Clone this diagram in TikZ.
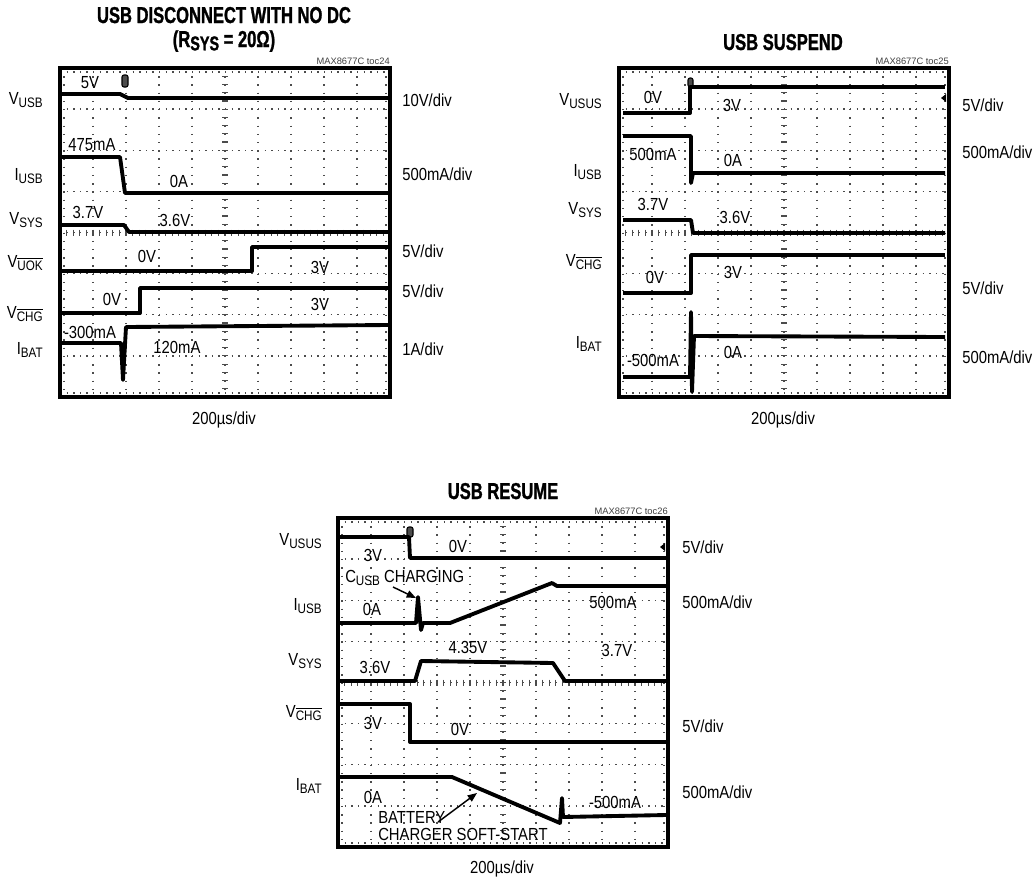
\documentclass[tikz,border=0pt]{standalone}
\usepackage{fontspec}
\usepackage{tikz}
\usetikzlibrary{arrows.meta}
\newfontfamily\labelfont[FakeStretch=0.85]{Liberation Sans}
\newfontfamily\tocfont{Liberation Sans}
\newfontfamily\titlefont[FakeStretch=0.72, BoldFeatures={FakeBold=1.2}]{Liberation Sans}
\newcommand{\sg}[2]{#1\raisebox{-2.3pt}{\fontsize{10.3}{12}\selectfont #2}}
\newcommand{\drawscreen}[2]{%
  \begin{scope}[shift={(#1,#2)}]
    \foreach \i in {1,...,9} \draw[gridv] (\i*33,0) -- (\i*33,329);
    \foreach \j in {1,...,7} \draw[gridh] (0,\j*41.125) -- (330,\j*41.125);
    \draw[gridh] (0,4) -- (330,4) (0,325) -- (330,325);
    \draw[gridv] (4,0) -- (4,329) (326,0) -- (326,329);
    \foreach \k in {1,...,49} \draw[tickmark] (\k*6.6,161.5) -- (\k*6.6,167.5);
    \foreach \k in {1,...,39} \draw[tickmark] (162,\k*8.225) -- (168,\k*8.225);
    \draw[screen] (0,0) rectangle (330,329);
  \end{scope}}
\tikzset{
  screen/.style={line width=3pt},
  gridh/.style={black!70, line width=1.1pt, dash pattern=on 1pt off 3.95pt},
  gridv/.style={black!70, line width=1.1pt, dash pattern=on 1pt off 5.17pt},
  tickmark/.style={black!70, line width=0.9pt},
  trace/.style={line width=2.9pt, line join=round},
  trigger/.style={fill=black!70, draw=black, line width=0.8pt, rounded corners=1.5pt},
  lab/.style={font=\labelfont\fontsize{13.1}{15}\selectfont, inner sep=0pt, anchor=base},
  sigl/.style={lab, anchor=base east},
  divl/.style={lab, anchor=base west},
  ttl/.style={font=\titlefont\bfseries\fontsize{17.25}{20}\selectfont, inner sep=0pt, anchor=base},
  tocl/.style={font=\tocfont\fontsize{7}{8}\selectfont, text=black!75, inner sep=0pt, anchor=base east},
  note/.style={-{Triangle[length=7pt,width=5.5pt]}, line width=1.1pt}
}

\begin{document}
\begin{tikzpicture}[x=0.75pt, y=-0.75pt]
\useasboundingbox (0,0) rectangle (1035,879);

% USB disconnect with no DC
\drawscreen{60}{68}
\filldraw[trigger] (122,75) rectangle (128,87);
\draw[trace] (62,94) -- (120,94) -- (128,98) -- (388,98);
\draw[trace] (62,157) -- (120,157) -- (125,193) -- (388,193);
\draw[trace] (62,225) -- (124,225) -- (129,232) -- (388,232);
\draw[trace] (62,271) -- (252,271) -- (252,247) -- (388,247);
\draw[trace] (62,313) -- (140,313) -- (140,288) -- (388,288);
\draw[trace] (62,343) -- (121,343) -- (123,380) -- (126,327) -- (388,325);
\begin{scope}[every node/.style={lab}]
  \node[ttl] (ttlA) at (224,23) {USB DISCONNECT WITH NO DC};
  \node[ttl, text height=12pt] (rsysA) at (224,47) {(R\raisebox{-2.5pt}{\fontsize{15}{16}\selectfont SYS} = 20Ω)};
  \node[tocl] (tocA) at (390,64) {MAX8677C toc24};
  \node[sigl] (vusbA) at (43,104) {\sg{V}{USB}};
  \node[sigl] (iusbA) at (43,180) {\sg{I}{USB}};
  \node[sigl] (vsysA) at (43,224) {\sg{V}{SYS}};
  \node[sigl] (vuokA) at (43,267) {\sg{V}{$\overline{\hbox{UOK}}$}};
  \node[sigl] (vchgA) at (43,318) {\sg{V}{$\overline{\hbox{CHG}}$}};
  \node[sigl] (ibatA) at (43,354) {\sg{I}{BAT}};
  \node[divl] (divA1) at (402,106) {10V/div};
  \node[divl] (divA2) at (402,180) {500mA/div};
  \node[divl] (divA3) at (402,257) {5V/div};
  \node[divl] (divA4) at (402,297) {5V/div};
  \node[divl] (divA5) at (402,355) {1A/div};
  \node (vA1) at (90,88) {5V};
  \node (iA1) at (92,150) {475mA};
  \node (iA2) at (179,187) {0A};
  \node (vA2) at (88,218) {3.7V};
  \node (vA3) at (175,226) {3.6V};
  \node (vA4) at (147,262) {0V};
  \node (vA5) at (320,273) {3V};
  \node (vA6) at (112,305) {0V};
  \node (vA7) at (320,310) {3V};
  \node (iA3) at (90,338) {-300mA};
  \node (iA4) at (177,353) {120mA};
  \node (timeA) at (224,424) {200µs/div};
\end{scope}

% USB suspend
\drawscreen{619}{68}
\filldraw[trigger] (688,78) rectangle (693,87);
\fill (941,98) -- (946,94) -- (946,102) -- cycle;
\draw[trace] (623,113) -- (690,113) -- (690,87) -- (945,87);
\draw[trace] (623,136) -- (691,136) -- (691,183) -- (693,173) -- (945,173);
\draw[trace] (623,220) -- (691,220) -- (693,233) -- (945,233);
\draw[trace] (623,293) -- (691,293) -- (691,255) -- (945,255);
\draw[trace] (623,377) -- (690,377) -- (691,312) -- (692,392) -- (694,336) -- (945,337);
\begin{scope}[every node/.style={lab}]
  \node[ttl] (ttlB) at (783,50) {USB SUSPEND};
  \node[tocl] (tocB) at (949,64) {MAX8677C toc25};
  \node[sigl] (vususB) at (602,105) {\sg{V}{USUS}};
  \node[sigl] (iusbB) at (602,176) {\sg{I}{USB}};
  \node[sigl] (vsysB) at (602,214) {\sg{V}{SYS}};
  \node[sigl] (vchgB) at (602,266) {\sg{V}{$\overline{\hbox{CHG}}$}};
  \node[sigl] (ibatB) at (602,348) {\sg{I}{BAT}};
  \node[divl] (divB1) at (962,111) {5V/div};
  \node[divl] (divB2) at (962,158) {500mA/div};
  \node[divl] (divB3) at (962,294) {5V/div};
  \node[divl] (divB4) at (962,363) {500mA/div};
  \node (vB1) at (653,103) {0V};
  \node (vB2) at (732,111) {3V};
  \node (iB1) at (653,160) {500mA};
  \node (iB2) at (733,166) {0A};
  \node (vB3) at (653,210) {3.7V};
  \node (vB4) at (735,223) {3.6V};
  \node (vB5) at (655,283) {0V};
  \node (vB6) at (733,278) {3V};
  \node (iB3) at (653,366) {-500mA};
  \node (iB4) at (733,358) {0A};
  \node (timeB) at (783,424) {200µs/div};
\end{scope}

% USB resume
\drawscreen{338}{518}
\filldraw[trigger] (407,527) rectangle (413,537);
\fill (660,547) -- (665,543) -- (665,551) -- cycle;
\draw[trace] (340,537) -- (409,537) -- (410,558) -- (666,558);
\draw[trace] (340,623) -- (416,623) -- (418,597) -- (421,630) -- (423,623) -- (450,623) -- (552,583) -- (557,586) -- (666,586);
\draw[trace] (340,681) -- (415,681) -- (421,661) -- (553,663) -- (565,681) -- (666,681);
\draw[trace] (340,704) -- (410,704) -- (410,742) -- (666,742);
\draw[trace] (340,777) -- (452,777) -- (560,823) -- (562,798) -- (563,817) -- (666,815);
\begin{scope}[every node/.style={lab}]
  \node[ttl] (ttlC) at (503,499) {USB RESUME};
  \node[tocl] (tocC) at (668,514) {MAX8677C toc26};
  \node[sigl] (vususC) at (322,545) {\sg{V}{USUS}};
  \node[sigl] (iusbC) at (322,610) {\sg{I}{USB}};
  \node[sigl] (vsysC) at (322,665) {\sg{V}{SYS}};
  \node[sigl] (vchgC) at (322,717) {\sg{V}{$\overline{\hbox{CHG}}$}};
  \node[sigl] (ibatC) at (322,790) {\sg{I}{BAT}};
  \node[divl] (divC1) at (682,553) {5V/div};
  \node[divl] (divC2) at (682,608) {500mA/div};
  \node[divl] (divC3) at (682,732) {5V/div};
  \node[divl] (divC4) at (682,798) {500mA/div};
  \node (vC1) at (373,561) {3V};
  \node (vC2) at (458,552) {0V};
  \node[anchor=base west] (cusbC) at (345,582) {\sg{C}{USB} CHARGING};
  \node (iC1) at (372,615) {0A};
  \node (iC2) at (613,608) {500mA};
  \node (vC3) at (468,653) {4.35V};
  \node (vC4) at (375,673) {3.6V};
  \node (vC5) at (617,656) {3.7V};
  \node (vC6) at (373,729) {3V};
  \node (vC7) at (460,735) {0V};
  \node (iC3) at (373,803) {0A};
  \node (iC4) at (615,808) {-500mA};
  \node[anchor=base west] (battC) at (378,823) {BATTERY};
  \node[anchor=base west] (softC) at (378,840) {CHARGER SOFT-START};
  \node (timeC) at (502,873) {200µs/div};
\end{scope}
\coordinate (cusbtail) at (393,587);
\coordinate (cusbtip) at (416,598);
\coordinate (batttail) at (438,822);
\coordinate (batttip) at (477,793);
\draw[note] (cusbtail) -- (cusbtip);
\draw[note] (batttail) -- (batttip);
\end{tikzpicture}
\end{document}
